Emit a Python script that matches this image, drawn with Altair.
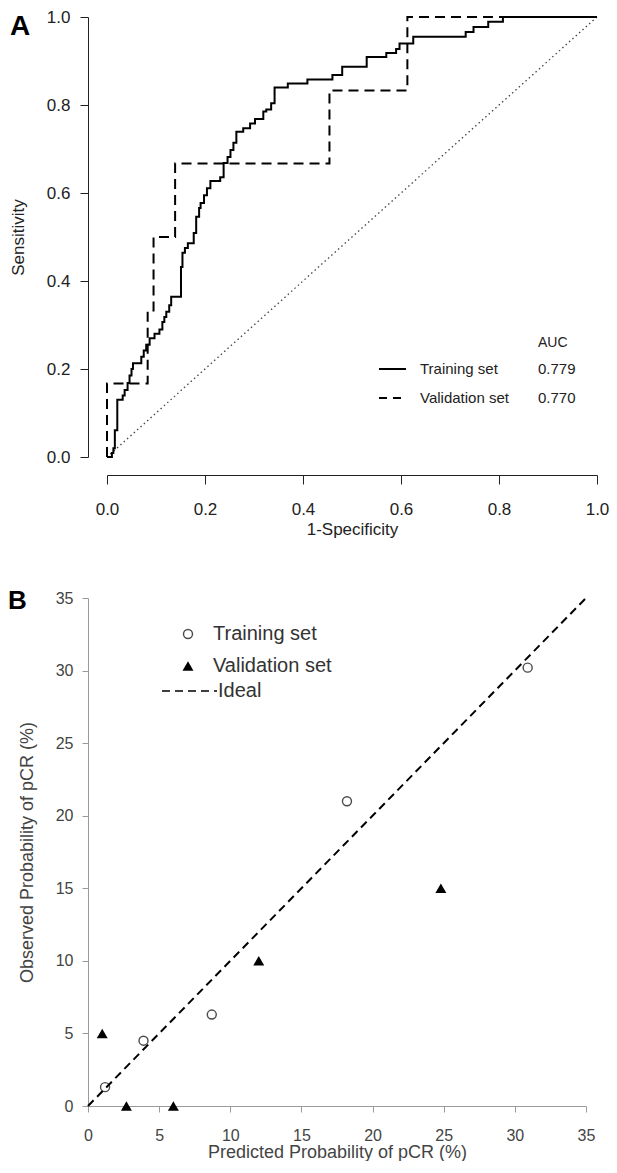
import altair as alt
import pandas as pd

FONT = "Liberation Sans"

# ---------------- Panel A: ROC curves ----------------
train_fpr = [0, 0.01, 0.01, 0.013, 0.013, 0.016, 0.016, 0.021, 0.021, 0.032, 0.032, 0.036, 0.036,
             0.042, 0.042, 0.046, 0.046, 0.05, 0.05, 0.053, 0.053, 0.07, 0.07, 0.075, 0.075, 0.08,
             0.08, 0.087, 0.087, 0.097, 0.097, 0.107, 0.107, 0.113, 0.113, 0.117, 0.117, 0.121,
             0.121, 0.127, 0.127, 0.131, 0.131, 0.151, 0.151, 0.154, 0.154, 0.159, 0.159, 0.165,
             0.165, 0.177, 0.177, 0.182, 0.182, 0.188, 0.188, 0.191, 0.191, 0.198, 0.198, 0.204,
             0.204, 0.211, 0.211, 0.231, 0.231, 0.238, 0.238, 0.246, 0.246, 0.252, 0.252, 0.258,
             0.258, 0.264, 0.264, 0.278, 0.278, 0.292, 0.292, 0.302, 0.302, 0.319, 0.319, 0.325,
             0.325, 0.335, 0.335, 0.342, 0.342, 0.369, 0.369, 0.409, 0.409, 0.46, 0.46, 0.48, 0.48,
             0.53, 0.53, 0.57, 0.57, 0.59, 0.59, 0.597, 0.597, 0.625, 0.625, 0.732, 0.732, 0.748,
             0.748, 0.778, 0.778, 0.808, 0.808, 1.0]
train_tpr = [0, 0, 0.009, 0.009, 0.02, 0.02, 0.061, 0.061, 0.13, 0.13, 0.14, 0.14, 0.152,
             0.152, 0.168, 0.168, 0.185, 0.185, 0.2, 0.2, 0.213, 0.213, 0.228, 0.228, 0.242, 0.242,
             0.255, 0.255, 0.27, 0.27, 0.28, 0.28, 0.29, 0.29, 0.307, 0.307, 0.318, 0.318,
             0.33, 0.33, 0.345, 0.345, 0.364, 0.364, 0.432, 0.432, 0.464, 0.464, 0.475, 0.475,
             0.486, 0.486, 0.509, 0.509, 0.546, 0.546, 0.566, 0.566, 0.577, 0.577, 0.595, 0.595,
             0.611, 0.611, 0.627, 0.627, 0.636, 0.636, 0.668, 0.668, 0.682, 0.682, 0.698, 0.698,
             0.714, 0.714, 0.739, 0.739, 0.747, 0.747, 0.758, 0.758, 0.768, 0.768, 0.785, 0.785,
             0.79, 0.79, 0.804, 0.804, 0.84, 0.84, 0.849, 0.849, 0.858, 0.858, 0.868, 0.868, 0.887,
             0.887, 0.909, 0.909, 0.918, 0.918, 0.927, 0.927, 0.94, 0.94, 0.955, 0.955, 0.966,
             0.966, 0.977, 0.977, 0.989, 0.989, 1.0, 1.0]
valid_fpr = [0, 0, 0.083, 0.083, 0.095, 0.095, 0.139, 0.139, 0.454, 0.454, 0.613, 0.613, 1.0]
valid_tpr = [0, 0.167, 0.167, 0.333, 0.333, 0.5, 0.5, 0.667, 0.667, 0.833, 0.833, 1.0, 1.0]
chance_line = [0, 1]
roc_ticks = [0, 0.2, 0.4, 0.6, 0.8, 1.0]

set_names = ["Training set", "Validation set"]
auc_values = ["0.779", "0.770"]

# ---------------- Panel B: calibration ----------------
train_pred = [1.2, 3.9, 8.7, 18.2, 30.9]
train_obs = [1.3, 4.5, 6.3, 21.0, 30.2]
valid_pred = [1.0, 2.7, 6.0, 12.0, 24.8]
valid_obs = [5.0, 0.0, 0.0, 10.0, 15.0]
ideal_line = [0, 35]
cal_ticks = [0, 5, 10, 15, 20, 25, 30, 35]

# ---------- build tables ----------
train_df = pd.DataFrame({"x": train_fpr, "y": train_tpr, "i": range(len(train_fpr))})
valid_df = pd.DataFrame({"x": valid_fpr, "y": valid_tpr, "i": range(len(valid_fpr))})
chance_df = pd.DataFrame({"x": chance_line, "y": chance_line})
one = pd.DataFrame({"k": [0]})

A_W, A_H = 509, 440
AX = "#222222"

xA = alt.X("x:Q", scale=alt.Scale(domain=[0, 1], range=[19, A_W]),
           axis=alt.Axis(values=roc_ticks, format=".1f", title="1-Specificity", grid=False,
                         offset=18, tickSize=9, domainColor=AX, tickColor=AX, labelColor=AX,
                         titleColor=AX, labelFontSize=17, titleFontSize=17, labelPadding=17,
                         titlePadding=4, titleFontWeight="normal", labelFont=FONT, titleFont=FONT,
                         labelFlush=False))
yA = alt.Y("y:Q", scale=alt.Scale(domain=[0, 1]),
           axis=alt.Axis(values=roc_ticks, format=".1f", title="Sensitivity", grid=False,
                         tickSize=8, domainColor=AX, tickColor=AX, labelColor=AX,
                         titleColor=AX, labelFontSize=17, titleFontSize=17, labelPadding=10,
                         titlePadding=19, titleFontWeight="normal", labelFont=FONT, titleFont=FONT,
                         labelFlush=False))

chance = alt.Chart(chance_df).mark_line(color="#444444", strokeWidth=1.3, strokeDash=[1.5, 3]).encode(
    x=xA, y=yA)
train_line = alt.Chart(train_df).mark_line(color="black", strokeWidth=2).encode(
    x=xA, y=yA, order="i:Q")
valid_line = alt.Chart(valid_df).mark_line(color="black", strokeWidth=2, strokeDash=[10, 6]).encode(
    x=xA, y=yA, order="i:Q")


def txt(label, x, y, size, color=AX, weight="normal", baseline="middle"):
    return alt.Chart(pd.DataFrame({"t": [label]})).mark_text(
        align="left", baseline=baseline, fontSize=size, font=FONT, color=color, fontWeight=weight
    ).encode(x=alt.value(x), y=alt.value(y), text="t:N")


leg_solid = alt.Chart(one).mark_rule(color="black", strokeWidth=2).encode(
    x=alt.value(291), x2=alt.value(318), y=alt.value(352))
leg_dash = alt.Chart(one).mark_rule(color="black", strokeWidth=2, strokeDash=[8, 6]).encode(
    x=alt.value(291), x2=alt.value(318), y=alt.value(381))

panelA = alt.layer(
    chance, train_line, valid_line,
    leg_solid, leg_dash,
    txt("AUC", 450, 326, 14),
    txt(set_names[0], 332, 352, 15), txt(auc_values[0], 450, 352, 15),
    txt(set_names[1], 332, 381, 15), txt(auc_values[1], 450, 381, 15),
    txt("A", -78, 18, 28, color="black", weight="bold", baseline="alphabetic"),
).properties(width=A_W, height=A_H)

# ---------- Panel B ----------
B_W, B_H = 498, 508
BX = "#9a9a9a"
BT = "#444444"
tr_df = pd.DataFrame({"x": train_pred, "y": train_obs})
va_df = pd.DataFrame({"x": valid_pred, "y": valid_obs})
id_df = pd.DataFrame({"x": ideal_line, "y": ideal_line})

xB = alt.X("x:Q", scale=alt.Scale(domain=[0, 35], nice=False),
           axis=alt.Axis(values=cal_ticks, title="Predicted Probability of pCR (%)", grid=False,
                         tickSize=6, domainColor=BX, tickColor=BX, labelColor=BT, titleColor=BT,
                         labelFontSize=16, titleFontSize=18, labelPadding=15, titlePadding=0,
                         titleFontWeight="normal", labelFont=FONT, titleFont=FONT,
                         labelFlush=False))
yB = alt.Y("y:Q", scale=alt.Scale(domain=[0, 35], nice=False),
           axis=alt.Axis(values=cal_ticks, title="Observed Probability of pCR (%)", grid=False,
                         tickSize=6, domainColor=BX, tickColor=BX, labelColor=BT, titleColor=BT,
                         labelFontSize=16, titleFontSize=18, labelPadding=9, titlePadding=19,
                         titleFontWeight="normal", labelFont=FONT, titleFont=FONT,
                         labelFlush=False))

ideal = alt.Chart(id_df).mark_line(color="black", strokeWidth=2, strokeDash=[8, 5]).encode(x=xB, y=yB)
tr_pts = alt.Chart(tr_df).mark_point(shape="circle", filled=False, color="black", size=81,
                                     strokeWidth=1.4).encode(x=xB, y=yB)
va_pts = alt.Chart(va_df).mark_point(shape="triangle-up", filled=True, color="black", size=120,
                                     opacity=1).encode(x=xB, y=yB)

legB_c = alt.Chart(one).mark_point(shape="circle", filled=False, color="black", size=81,
                                   strokeWidth=1.4).encode(x=alt.value(100), y=alt.value(36))
legB_t = alt.Chart(one).mark_point(shape="triangle-up", filled=True, color="black", size=120,
                                   opacity=1).encode(x=alt.value(100), y=alt.value(68))
legB_l = alt.Chart(one).mark_rule(color="black", strokeWidth=1.5, strokeDash=[8, 5]).encode(
    x=alt.value(74), x2=alt.value(129), y=alt.value(93))

panelB = alt.layer(
    ideal, tr_pts, va_pts, legB_c, legB_t, legB_l,
    txt(set_names[0], 125, 36, 20, color="#333333"),
    txt(set_names[1], 125, 68, 20, color="#333333"),
    txt("Ideal", 130, 93, 20, color="#333333"),
    txt("B", -80, 11, 26, color="black", weight="bold", baseline="alphabetic"),
).properties(width=B_W, height=B_H)

chart = alt.vconcat(panelA, panelB, spacing=51).properties(
    padding={"left": 0, "top": 0, "right": 0, "bottom": 0}
).configure(font=FONT).configure_view(stroke=None, strokeWidth=0)

chart.save("out.html", embed_options={"renderer": "svg", "actions": False})
